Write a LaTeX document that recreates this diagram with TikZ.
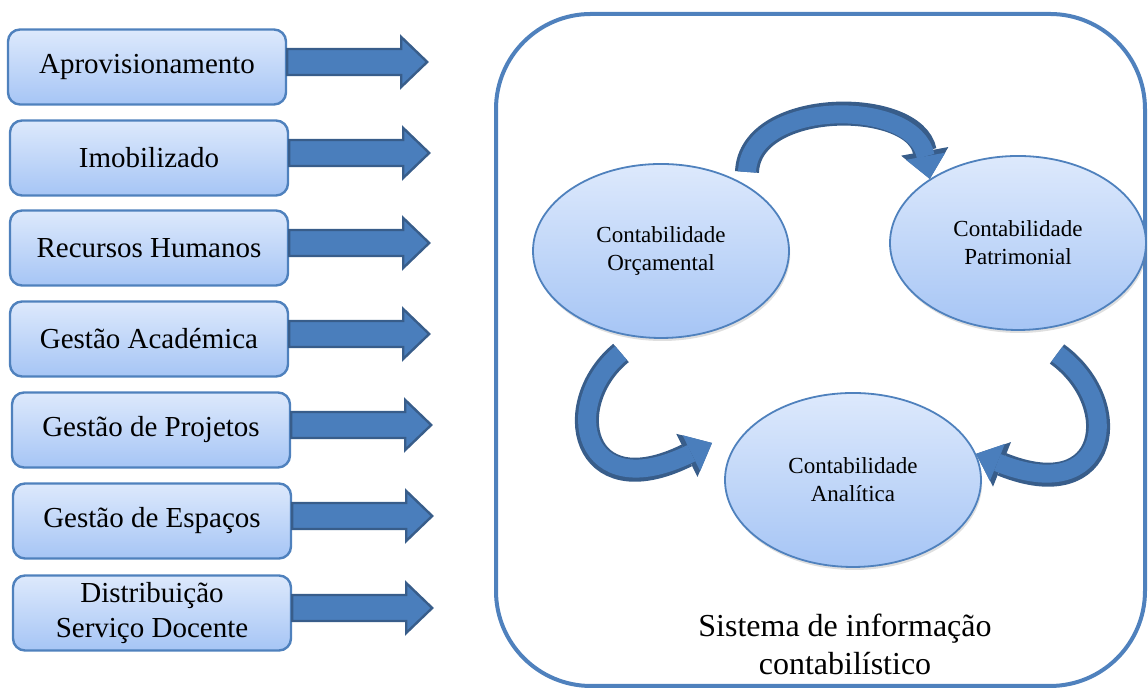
\documentclass[tikz,border=0pt]{standalone}
\usepackage{fontspec}
\setmainfont{Liberation Serif}
\usetikzlibrary{shapes.geometric,arrows.meta,shadows}

\definecolor{boxtop}{HTML}{DDE9FC}
\definecolor{boxbot}{HTML}{A6C5F5}
\definecolor{rimblue}{HTML}{4F81BD}
\definecolor{arrowblue}{HTML}{4A7EBC}
\definecolor{arrowdark}{HTML}{385D8A}

\tikzset{
  module/.style={draw=rimblue, line width=1.2pt, rounded corners=6pt,
    top color=boxtop, bottom color=boxbot, minimum width=139pt,
    minimum height=37.5pt, align=center,
    font=\fontsize{14.5}{17.5}\selectfont},
  ledger/.style={ellipse, draw=rimblue, line width=0.9pt, top color=boxtop,
    bottom color=boxbot, minimum width=128pt, minimum height=87pt,
    inner sep=0pt, align=center, font=\fontsize{11.5}{14}\selectfont,
    drop shadow={shadow xshift=0.6pt, shadow yshift=-1.5pt, opacity=0.25}},
  blockarrow/.style={draw=arrowdark, line width=1.2pt, fill=arrowblue},
  bendback/.style={draw=arrowdark, line width=12pt,
    -{Triangle[width=24pt,length=14pt,line width=0pt]}},
  bendfront/.style={draw=arrowblue, line width=9pt,
    -{Triangle[width=20pt,length=11.5pt,line width=0pt]}}
}

\begin{document}
\begin{tikzpicture}[x=0.5pt,y=0.5pt]
   \useasboundingbox (0,0) rectangle (1148,688);

   % left side: modules
   \path (147,621) node[module] (apr) {Aprovisionamento};
   \path (149,530) node[module] (imo) {Imobilizado};
   \path (149,440) node[module] (rh)  {Recursos Humanos};
   \path (149,349) node[module] (ga)  {Gestão Académica};
   \path (151,258) node[module] (gp)  {Gestão de Projetos};
   \path (152,167) node[module] (ge)  {Gestão de Espaços};
   \path (152,75)  node[module] (dsd) {Distribuição\\Serviço Docente};

   \foreach \b in {apr,imo,rh,ga,gp,ge,dsd}
     \draw[blockarrow] ([yshift=2.5pt]\b.east) ++(0,-13) -- ++(114,0)
       -- ++(0,-12) -- ++(26,25) -- ++(-26,25) -- ++(0,-12) -- ++(-114,0) -- cycle;

   % right side: system
   \path (820.5,338) node[draw=rimblue, line width=2pt, rounded corners=47.5pt,
     minimum width=324.5pt, minimum height=336pt] (sys) {};

   \path (661,437) node[ledger] (orc) {Contabilidade\\Orçamental};
   \path (1018,445) node[ledger] (pat) {Contabilidade\\Patrimonial};
   \path (853,208) node[ledger] (ana) {Contabilidade\\Analítica};

   \path (845,44) node[align=center, font=\fontsize{16}{19}\selectfont] (sil)
     {Sistema de informação\\contabilístico};

   \coordinate (orcTail) at (747,516);
   \coordinate (orcFoot) at (621,335);
   \coordinate (patFoot) at (1057,334);
   \coordinate (anaLeft) at (712,245);

   \foreach \s in {bendback,bendfront} {
     \draw[\s] (orcTail) .. controls (750,590) and (915,590) .. (pat.144);
     \draw[\s] (orcFoot) .. controls (560,285) and (580,180) .. (anaLeft);
     \draw[\s] (patFoot) .. controls (1125,285) and (1110,180) .. (ana.12);
   }
\end{tikzpicture}
\end{document}
